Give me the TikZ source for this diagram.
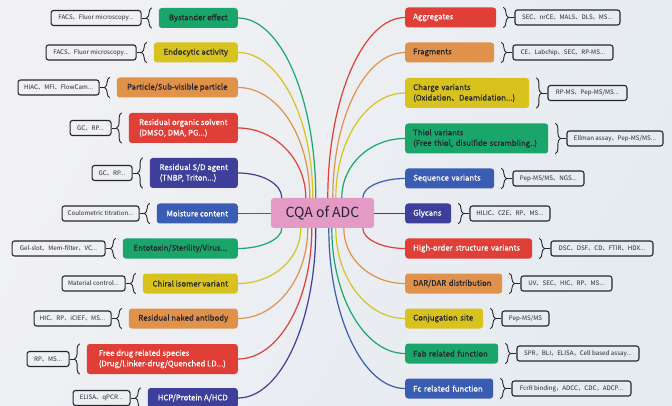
\documentclass[tikz,border=0pt]{standalone}
\usepackage{fontspec}
\setmainfont{Noto Sans CJK SC}
\newfontfamily\nodefont[FakeBold=0.35]{Noto Sans CJK SC}
\usetikzlibrary{calc,decorations.pathreplacing}
\definecolor{cgreen}{RGB}{26,166,106}
\definecolor{cyellow}{RGB}{216,194,30}
\definecolor{corange}{RGB}{224,145,74}
\definecolor{cred}{RGB}{223,63,54}
\definecolor{cindigo}{RGB}{62,63,154}
\definecolor{cblue}{RGB}{58,93,179}
\definecolor{cpink}{RGB}{227,154,196}
\definecolor{cdark}{RGB}{37,37,47}
\definecolor{bgc}{RGB}{238,240,243}
\definecolor{bgl}{RGB}{241,241,243}
\definecolor{bgr}{RGB}{229,235,241}
\begin{document}
\begin{tikzpicture}[x=1pt,y=-1pt,
  cat/.style={rounded corners=3pt, inner xsep=8pt, inner ysep=2pt, minimum height=20pt,
    font=\nodefont\fontsize{7.8}{10.5}\selectfont, align=left},
  lcat/.style={cat, anchor=east},
  rcat/.style={cat, anchor=west},
  meth/.style={draw=cdark, line width=1.1pt, rounded corners=2.5pt, minimum height=15pt,
    inner xsep=3pt, inner ysep=0pt, text=cdark, font=\fontsize{6.2}{7}\selectfont},
  lmeth/.style={meth, anchor=east},
  rmeth/.style={meth, anchor=west},
  br/.style={decorate, decoration={brace, amplitude=5pt}, draw=cdark, line width=0.9pt},
  tick/.style={draw=cdark, line width=0.9pt},
  conn/.style={line width=1.2pt}
]
\shade[left color=bgl, right color=bgr, shading angle=60] (0,0) rectangle (672,406);
\useasboundingbox (0,0) rectangle (672,406);

% centre
\node[rounded corners=3pt, fill=cpink, text=cdark, minimum width=103pt, minimum height=30pt,
  font=\fontsize{14}{16}\selectfont] (cqa) at (322.5,213) {CQA of ADC};

% left categories
\node[lcat,fill=cgreen,text=cdark,minimum width=79pt] (L1) at (238,18) {Bystander effect};
\node[lcat,fill=cyellow,text=cdark,minimum width=84pt] (L2) at (238,52.5) {Endocytic activity};
\node[lcat,fill=corange,text=cdark,minimum width=121pt] (L3) at (238,87.5) {Particle/Sub-visible particle};
\node[lcat,fill=cred,text=white,minimum width=109pt,minimum height=30pt] (L4) at (238,128) {Residual organic solvent\\(DMSO, DMA, PG...)};
\node[lcat,fill=cindigo,text=white,minimum width=88pt,minimum height=30pt] (L5) at (238,173) {Residual S/D agent\\(TNBP, Triton...)};
\node[lcat,fill=cblue,text=white,minimum width=81pt] (L6) at (238,213.5) {Moisture content};
\node[lcat,fill=cgreen,text=cdark,minimum width=115pt] (L7) at (238,248.5) {Entotoxin/Sterility/Virus...};
\node[lcat,fill=cyellow,text=cdark,minimum width=95pt] (L8) at (238,283.5) {Chiral isomer variant};
\node[lcat,fill=corange,text=cdark,minimum width=109pt] (L9) at (238,318.5) {Residual naked antibody};
\node[lcat,fill=cred,text=white,minimum width=151pt,minimum height=30pt] (L10) at (238,359) {Free drug related species\\(Drug/Linker-drug/Quenched LD...)};
\node[lcat,fill=cindigo,text=white,minimum width=90pt] (L11) at (238,398) {HCP/Protein A/HCD};

% right categories
\node[rcat,fill=cred,text=white,text width=75pt] (R1) at (405,17.5) {Aggregates};
\node[rcat,fill=corange,text=cdark,text width=73pt] (R2) at (405,52.5) {Fragments};
\node[rcat,fill=cyellow,text=cdark,text width=108pt,minimum height=30pt] (R3) at (405,93) {Charge variants\\\mbox{(Oxidation、Deamidation...)}};
\node[rcat,fill=cgreen,text=cdark,text width=127pt,minimum height=30pt] (R4) at (405,138.5) {Thiol variants\\\mbox{(Free thiol, disulfide scrambling..)}};
\node[rcat,fill=cblue,text=white,text width=73pt] (R5) at (405,178.5) {\mbox{Sequence variants}};
\node[rcat,fill=cindigo,text=white,text width=30pt] (R6) at (405,213.5) {\mbox{Glycans}};
\node[rcat,fill=cred,text=white,text width=111pt] (R7) at (405,248.5) {\mbox{High-order structure variants}};
\node[rcat,fill=corange,text=cdark,text width=81pt] (R8) at (405,283.5) {\mbox{DAR/DAR distribution}};
\node[rcat,fill=cyellow,text=cdark,text width=62pt] (R9) at (405,318.5) {\mbox{Conjugation site}};
\node[rcat,fill=cgreen,text=cdark,text width=77pt] (R10) at (405,353.5) {\mbox{Fab related function}};
\node[rcat,fill=cblue,text=white,text width=72pt] (R11) at (405,388.5) {\mbox{Fc related function}};

% left methods
\node[lmeth,minimum width=90pt] (m1) at ($(L1.west)+(-17,0)$) {FACS、Fluor microscopy...};
\node[lmeth,minimum width=90pt] (m2) at ($(L2.west)+(-17,0)$) {FACS、Fluor microscopy...};
\node[lmeth,minimum width=81pt] (m3) at ($(L3.west)+(-17,0)$) {HIAC、MFI、FlowCam...};
\node[lmeth,minimum width=41pt] (m4) at ($(L4.west)+(-17,0)$) {GC、RP...};
\node[lmeth,minimum width=40pt] (m5) at ($(L5.west)+(-17,0)$) {GC、RP...};
\node[lmeth,minimum width=77pt] (m6) at ($(L6.west)+(-17,0)$) {Coulometric titration...};
\node[lmeth,minimum width=93pt] (m7) at ($(L7.west)+(-17,0)$) {Gel-slot、Mem-filter、VC...};
\node[lmeth,minimum width=63pt] (m8) at ($(L8.west)+(-17,0)$) {Material control...};
\node[lmeth,minimum width=77pt] (m9) at ($(L9.west)+(-17,0)$) {HIC、RP、iCIEF、MS...};
\node[lmeth,minimum width=42pt] (m10) at ($(L10.west)+(-17,0)$) {RP、MS...};
\node[lmeth,minimum width=57pt] (m11) at ($(L11.west)+(-17,0)$) {ELISA、qPCR...};

% right methods
\node[rmeth,minimum width=105pt] (n1) at ($(R1.east)+(18,0)$) {SEC、nrCE、MALS、DLS、MS...};
\node[rmeth,minimum width=100pt] (n2) at ($(R2.east)+(18,0)$) {CE、Labchip、SEC、RP-MS...};
\node[rmeth,minimum width=79pt] (n3) at ($(R3.east)+(18,0)$) {RP-MS、Pep-MS/MS...};
\node[rmeth,minimum width=96pt] (n4) at ($(R4.east)+(18,0)$) {Ellman assay、Pep-MS/MS...};
\node[rmeth,minimum width=71pt] (n5) at ($(R5.east)+(18,0)$) {Pep-MS/MS、NGS...};
\node[rmeth,minimum width=80pt] (n6) at ($(R6.east)+(18,0)$) {HILIC、CZE、RP、MS...};
\node[rmeth,minimum width=102pt] (n7) at ($(R7.east)+(18,0)$) {DSC、DSF、CD、FTIR、HDX...};
\node[rmeth,minimum width=91pt] (n8) at ($(R8.east)+(18,0)$) {UV、SEC、HIC、RP、MS...};
\node[rmeth,minimum width=47pt] (n9) at ($(R9.east)+(18,0)$) {Pep-MS/MS};
\node[rmeth,minimum width=122pt] (n10) at ($(R10.east)+(18,0)$) {SPR，BLI，ELISA，Cell based assay...};
\node[rmeth,minimum width=119pt] (n11) at ($(R11.east)+(18,0)$) {FcrR binding，ADCC，CDC，ADCP...};

% braces
\foreach \i in {1,...,11}{
  \draw[br] ($(L\i.south west)+(-7,0)$) -- ($(L\i.north west)+(-7,0)$);
  \draw[tick] ($(L\i.west)+(-12,0)$) -- (m\i.east);
  \draw[br] ($(R\i.north east)+(7,0)$) -- ($(R\i.south east)+(7,0)$);
  \draw[tick] ($(R\i.east)+(12,0)$) -- (n\i.west);
}

% end points on the centre node
\coordinate (a1) at ($(cqa.north west)+(45,0)$);
\coordinate (a2) at ($(cqa.north west)+(42,0)$);
\coordinate (a3) at ($(cqa.north west)+(39,0)$);
\coordinate (a4) at ($(cqa.north west)+(35,0)$);
\coordinate (a5) at ($(cqa.north west)+(11,0)$);
\coordinate (a7) at ($(cqa.south west)+(11,0)$);
\coordinate (a8) at ($(cqa.south west)+(30,0)$);
\coordinate (a9) at ($(cqa.south west)+(37,0)$);
\coordinate (a10) at ($(cqa.south west)+(41,0)$);
\coordinate (a11) at ($(cqa.south west)+(45,0)$);
\coordinate (b1) at ($(cqa.north west)+(57,0)$);
\coordinate (b2) at ($(cqa.north west)+(62,0)$);
\coordinate (b3) at ($(cqa.north west)+(65,0)$);
\coordinate (b4) at ($(cqa.north west)+(71,0)$);
\coordinate (b5) at ($(cqa.north west)+(92,0)$);
\coordinate (b7) at ($(cqa.south west)+(92,0)$);
\coordinate (b8) at ($(cqa.south west)+(73,0)$);
\coordinate (b9) at ($(cqa.south west)+(65,0)$);
\coordinate (b10) at ($(cqa.south west)+(61,0)$);
\coordinate (b11) at ($(cqa.south west)+(58,0)$);

% left connectors
\draw[conn,cgreen] (L1.east) .. controls +(43,0) and +(0,-99) .. (a1);
\draw[conn,cyellow] (L2.east) .. controls +(41,0) and +(0,-80) .. (a2);
\draw[conn,corange] (L3.east) .. controls +(40,0) and +(0,-61) .. (a3);
\draw[conn,cred] (L4.east) .. controls +(37,0) and +(0,-38) .. (a4);
\draw[conn,cindigo] (L5.east) .. controls +(24,0) and +(0,-14) .. (a5);
\draw[conn,cblue] (L6.east) -- (L6.east -| cqa.west);
\draw[conn,cgreen] (L7.east) .. controls +(24,0) and +(0,11) .. (a7);
\draw[conn,cyellow] (L8.east) .. controls +(35,0) and +(0,31) .. (a8);
\draw[conn,corange] (L9.east) .. controls +(38,0) and +(0,50) .. (a9);
\draw[conn,cred] (L10.east) .. controls +(41,0) and +(0,72) .. (a10);
\draw[conn,cindigo] (L11.east) .. controls +(43,0) and +(0,93) .. (a11);

% right connectors
\draw[conn,cred] (R1.west) .. controls +(-42,0) and +(0,-99) .. (b1);
\draw[conn,corange] (R2.west) .. controls +(-40,0) and +(0,-80) .. (b2);
\draw[conn,cyellow] (R3.west) .. controls +(-38,0) and +(0,-58) .. (b3);
\draw[conn,cgreen] (R4.west) .. controls +(-35,0) and +(0,-33) .. (b4);
\draw[conn,cblue] (R5.west) .. controls +(-23,0) and +(0,-11) .. (b5);
\draw[conn,cindigo] (R6.west) -- (R6.west -| cqa.east);
\draw[conn,cred] (R7.west) .. controls +(-23,0) and +(0,11) .. (b7);
\draw[conn,corange] (R8.west) .. controls +(-34,0) and +(0,31) .. (b8);
\draw[conn,cyellow] (R9.west) .. controls +(-38,0) and +(0,50) .. (b9);
\draw[conn,cgreen] (R10.west) .. controls +(-40,0) and +(0,69) .. (b10);
\draw[conn,cblue] (R11.west) .. controls +(-42,0) and +(0,88) .. (b11);
\end{tikzpicture}
\end{document}
